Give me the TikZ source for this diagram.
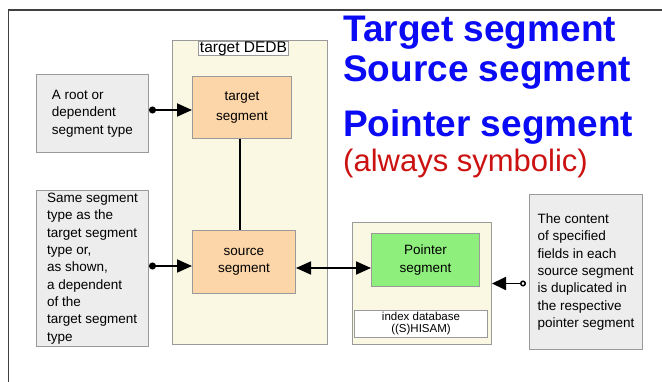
\documentclass[tikz,border=0pt]{standalone}
\usepackage{fontspec}
\setmainfont{Liberation Sans}
\usetikzlibrary{arrows.meta}
\definecolor{cream}{HTML}{FAF8E2}
\definecolor{peach}{HTML}{FCD5A8}
\definecolor{lgreen}{HTML}{8EEF7C}
\definecolor{lgray}{HTML}{EDEDED}
\definecolor{edgegray}{HTML}{9A9A9A}
\definecolor{titleblue}{HTML}{0A0AF5}
\definecolor{titlered}{HTML}{CC1111}

\begin{document}
\begin{tikzpicture}[x=1pt,y=-1pt,
  box/.style={draw=edgegray,line width=1pt,inner sep=0pt,anchor=north west,align=center,
    font=\fontsize{13.5}{17.3}\selectfont},
  note/.style={box,fill=lgray,align=left},
  seg/.style={box,fill=peach},
  db/.style={box,fill=cream},
  tag/.style={box,fill=white},
  conn/.style={line width=1.8pt},
  ttl/.style={anchor=base west,inner sep=0pt,text=titleblue,
    font=\fontsize{37}{40}\selectfont\bfseries}]
  \useasboundingbox (0,0) rectangle (662,382);

  % frame
  \draw[line width=1.5pt,black!75] (8.5,382) -- (8.5,10) -- (662,10);

  % headings
  \node[ttl] (ttltgt) at (343,42) {Target segment};
  \node[ttl] (ttlsrc) at (343,82) {Source segment};
  \node[ttl] (ttlptr) at (343,137) {Pointer segment};
  \node[ttl,text=titlered,font=\fontsize{31}{34}\selectfont] (ttlsym) at (343,172) {(always symbolic)};

  % target DEDB
  \node[db,minimum width=155pt,minimum height=304pt] (dedb) at (172,40) {};
  \node[tag,font=\fontsize{15.5}{16}\selectfont,minimum width=90pt,minimum height=14pt] (dedbtag) at (198,41) {target DEDB};
  \node[seg,minimum width=99pt,minimum height=62pt,font=\fontsize{13.5}{20}\selectfont] (tgt) at (192,76) {target\\segment};
  \node[seg,minimum width=103pt,minimum height=63pt] (src) at (192,230) {source\\segment};

  % index database
  \node[db,minimum width=139pt,minimum height=122pt] (idx) at (352,222) {};
  \node[box,fill=lgreen,minimum width=108pt,minimum height=53pt] (ptr) at (371,233) {Pointer\\segment};
  \node[tag,font=\fontsize{11.5}{12}\selectfont,minimum width=133pt,minimum height=27pt] (idxtag) at (354,310) {index database\\((S)HISAM)};

  % notes
  \node[note,minimum width=112pt,minimum height=78pt] (rootnote) at (36,74)
    {A root or\\dependent\\segment type};
  \node[note,minimum width=112pt,minimum height=156pt] (srcnote) at (36,190)
    {Same segment\\type as the\\target segment\\type or,\\as shown,\\a dependent\\of the\\target segment\\type};
  \node[note,minimum width=113pt,minimum height=155pt] (ptrnote) at (529,194)
    {The content\\of specified\\fields in each\\source segment\\is duplicated in\\the respective\\pointer segment};

  % connectors
  \draw[conn] (tgt.south -| 240,0) -- (src.north -| 240,0);
  \draw[conn,{Circle[length=7pt]}-{Triangle[length=15pt,width=13pt]}]
    (rootnote.east |- 0,110) -- (tgt.west |- 0,110);
  \draw[conn,{Circle[length=7pt]}-{Triangle[length=15pt,width=13pt]}]
    (srcnote.east |- 0,266) -- (src.west |- 0,266);
  \draw[conn,{Triangle[length=15pt,width=13pt]}-{Triangle[length=15pt,width=13pt]}]
    (src.east |- 0,268) -- (ptr.west |- 0,268);
  \draw[conn,{Circle[open,length=6pt,line width=1.5pt]}-{Triangle[length=14pt,width=13pt]},shorten <=3pt]
    (ptrnote.west |- idx.east) -- (idx.east);
\end{tikzpicture}
\end{document}
